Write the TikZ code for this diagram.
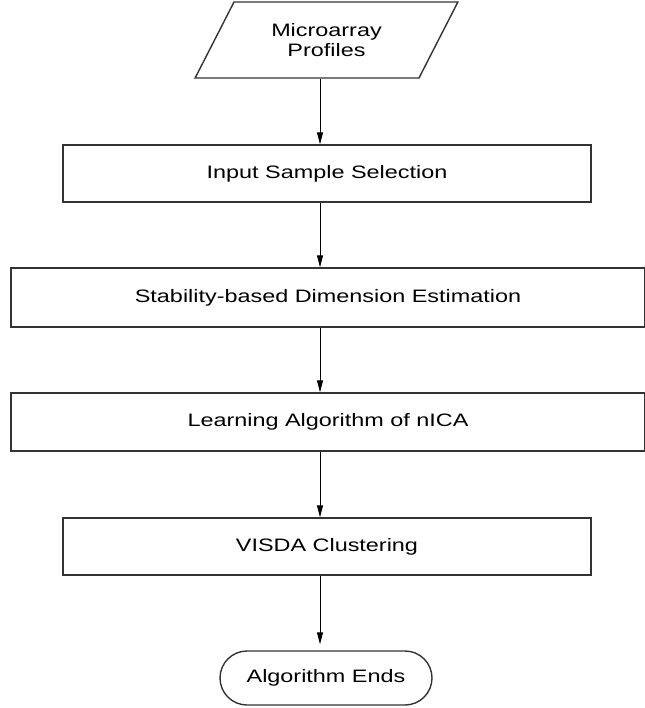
\documentclass[tikz,border=0pt]{standalone}
\usepackage{fontspec}
\newfontfamily\flowfont[FakeStretch=1.3]{Liberation Sans}
\usetikzlibrary{shapes.geometric,arrows.meta}

\begin{document}
\begin{tikzpicture}[x=1pt, y=-1pt, >={Triangle[length=12pt, width=6pt]}]
	\tikzstyle{stepbox}=[rectangle, draw=black!80, line width=1.4pt, minimum height=57pt, inner sep=0pt, font=\flowfont\fontsize{18}{20}\selectfont]
	\tikzstyle{databox}=[trapezium, trapezium left angle=55, trapezium right angle=125, trapezium stretches=true, draw=black!80, line width=1.4pt, minimum width=263pt, minimum height=76pt, inner sep=0pt, align=center, font=\flowfont\fontsize{18}{20}\selectfont]
	\tikzstyle{endbox}=[rectangle, rounded corners=27pt, draw=black!80, line width=1.4pt, minimum width=212pt, minimum height=54pt, inner sep=0pt, font=\flowfont\fontsize{18}{20}\selectfont]
	\useasboundingbox (0, 0) rectangle (644, 708);
	\coordinate (axis) at (320, 0);
	\draw node[databox] at (326.5, 40) (profiles) {Microarray\\Profiles};
	\draw node[stepbox, minimum width=528pt] at (327, 173.5) (select) {Input Sample Selection};
	\draw node[stepbox, minimum width=634pt, minimum height=59pt] at (328, 297.5) (dimest) {Stability-based Dimension Estimation};
	\draw node[stepbox, minimum width=634pt, minimum height=58pt] at (328, 422) (nica) {Learning Algorithm of nICA};
	\draw node[stepbox, minimum width=528pt] at (327, 546.5) (visda) {VISDA Clustering};
	\draw node[endbox] at (326, 678) (ends) {Algorithm Ends};

	\draw [->, line width=1pt]  (profiles.south -| axis) -- (select.north -| axis);
	\draw [->, line width=1pt]  (select.south -| axis) -- (dimest.north -| axis);
	\draw [->, line width=1pt]  (dimest.south -| axis) -- (nica.north -| axis);
	\draw [->, line width=1pt]  (nica.south -| axis) -- (visda.north -| axis);
	\draw [->, line width=1pt, shorten >=6pt]  (visda.south -| axis) -- (ends.north -| axis);
\end{tikzpicture}
\end{document}
